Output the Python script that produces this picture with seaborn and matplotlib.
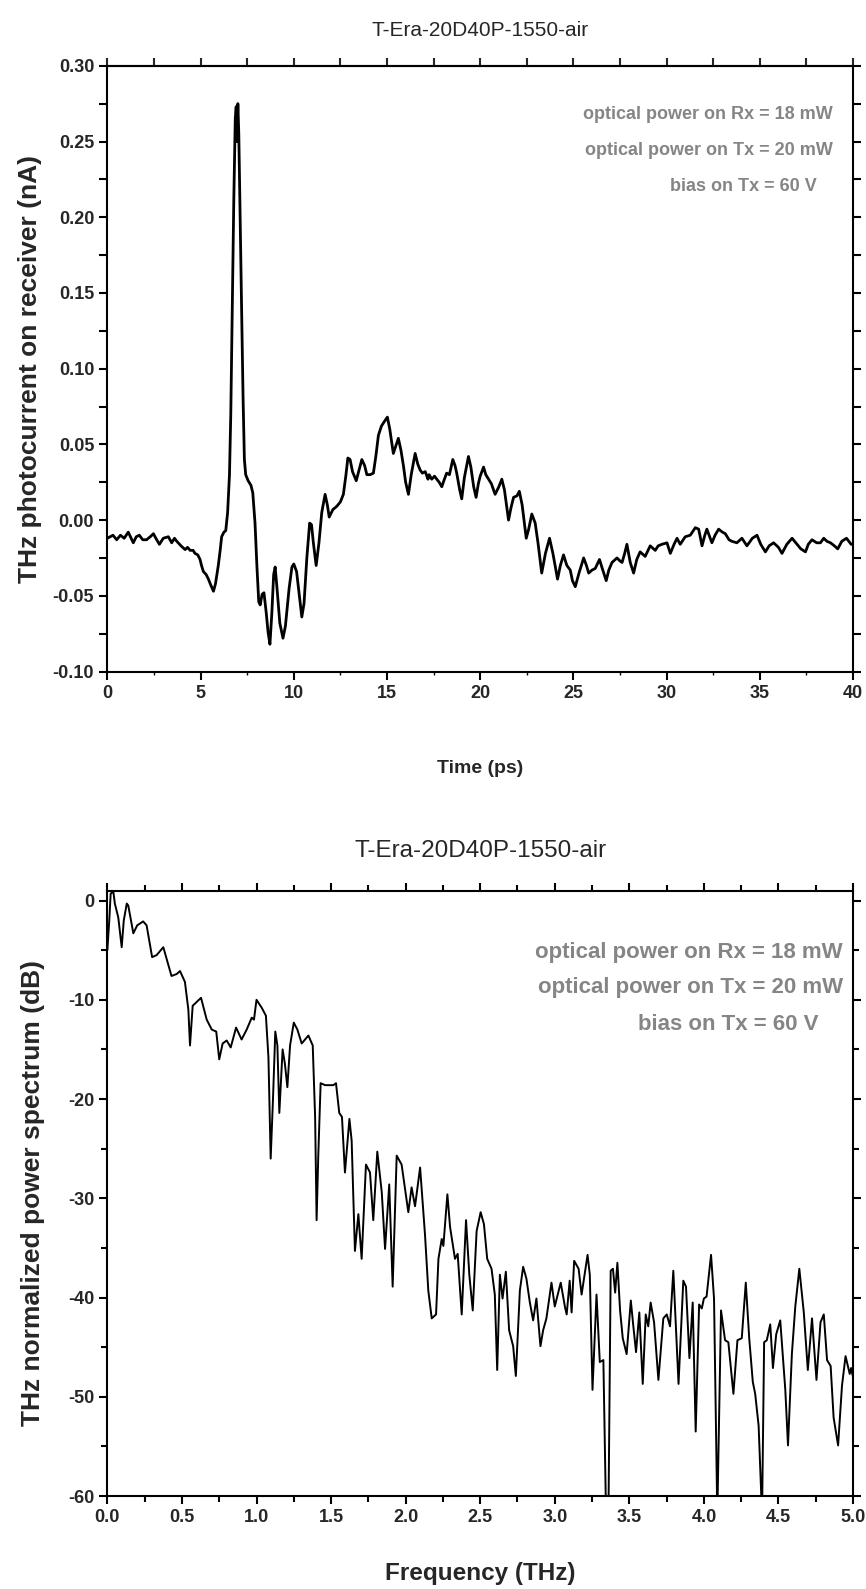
import matplotlib
matplotlib.use("Agg")
import matplotlib.pyplot as plt
from matplotlib.ticker import MultipleLocator
import pandas as pd
import seaborn as sns

# time-domain trace
time_ps = [0.0, 0.3, 0.5, 0.7, 0.9, 1.12, 1.39, 1.55, 1.71, 1.9, 2.1, 2.3, 2.47, 2.6, 2.79, 3.0, 3.27, 3.45, 3.6, 3.72,
           3.95, 4.17, 4.3, 4.44, 4.6, 4.7, 4.85, 4.97, 5.05, 5.15, 5.3, 5.42, 5.55, 5.69, 5.8, 5.95, 6.05, 6.13, 6.25, 6.35,
           6.45, 6.55, 6.62, 6.7, 6.78, 6.86, 6.91, 6.95, 7.0, 7.05, 7.12, 7.2, 7.28, 7.35, 7.42, 7.55, 7.7, 7.8, 7.92, 8.02,
           8.12, 8.2, 8.3, 8.4, 8.52, 8.62, 8.72, 8.82, 8.92, 9.0, 9.1, 9.25, 9.42, 9.55, 9.75, 9.9, 10.0, 10.15, 10.3, 10.43,
           10.55, 10.7, 10.85, 10.95, 11.05, 11.2, 11.35, 11.5, 11.68, 11.8, 11.9, 12.1, 12.3, 12.5, 12.66, 12.8, 12.9, 13.02, 13.15, 13.35,
           13.5, 13.65, 13.8, 13.92, 14.1, 14.27, 14.4, 14.54, 14.7, 14.8, 15.02, 15.15, 15.34, 15.5, 15.61, 15.75, 15.88, 16.0, 16.15, 16.3,
           16.51, 16.65, 16.78, 16.9, 17.05, 17.2, 17.26, 17.4, 17.55, 17.67, 17.8, 17.94, 18.05, 18.2, 18.35, 18.53, 18.65, 18.74, 18.9, 19.01,
           19.15, 19.37, 19.5, 19.65, 19.78, 19.9, 20.0, 20.18, 20.3, 20.45, 20.6, 20.8, 21.0, 21.16, 21.3, 21.52, 21.65, 21.79, 21.97, 22.1,
           22.25, 22.47, 22.6, 22.77, 22.95, 23.1, 23.3, 23.5, 23.72, 23.9, 24.15, 24.3, 24.47, 24.65, 24.83, 24.95, 25.1, 25.3, 25.55, 25.7,
           25.82, 26.0, 26.17, 26.4, 26.55, 26.76, 26.9, 27.07, 27.34, 27.5, 27.61, 27.75, 27.87, 28.05, 28.23, 28.4, 28.58, 28.85, 29.12, 29.39,
           29.55, 29.75, 30.02, 30.2, 30.4, 30.56, 30.73, 31.0, 31.27, 31.54, 31.72, 31.9, 32.05, 32.16, 32.43, 32.6, 32.79, 33.0, 33.15, 33.35,
           33.5, 33.77, 34.04, 34.31, 34.6, 34.85, 35.05, 35.3, 35.5, 35.74, 36.0, 36.19, 36.45, 36.73, 37.0, 37.2, 37.45, 37.6, 37.8, 38.05,
           38.25, 38.43, 38.6, 38.79, 39.0, 39.18, 39.4, 39.65, 39.9, 40.0]
current_na = [-0.012, -0.010, -0.013, -0.010, -0.012, -0.008, -0.015, -0.011, -0.010, -0.013, -0.013, -0.011, -0.009, -0.012, -0.016, -0.012, -0.011, -0.015, -0.012, -0.014,
              -0.017, -0.0195, -0.018, -0.020, -0.020, -0.022, -0.023, -0.026, -0.030, -0.034, -0.036, -0.039, -0.043, -0.047, -0.042, -0.030, -0.020, -0.011, -0.008, -0.007,
              0.005, 0.030, 0.070, 0.140, 0.210, 0.265, 0.273, 0.250, 0.275, 0.255, 0.200, 0.140, 0.080, 0.040, 0.030, 0.026, 0.023, 0.018, -0.002, -0.030,
              -0.054, -0.056, -0.049, -0.048, -0.061, -0.074, -0.082, -0.062, -0.036, -0.031, -0.045, -0.068, -0.078, -0.070, -0.045, -0.031, -0.029, -0.034, -0.050, -0.064,
              -0.055, -0.025, -0.002, -0.003, -0.015, -0.030, -0.015, 0.005, 0.017, 0.010, 0.002, 0.007, 0.009, 0.012, 0.017, 0.030, 0.041, 0.040, 0.032, 0.026,
              0.033, 0.040, 0.036, 0.030, 0.030, 0.031, 0.042, 0.056, 0.062, 0.064, 0.068, 0.060, 0.044, 0.050, 0.054, 0.046, 0.036, 0.025, 0.017, 0.030,
              0.044, 0.037, 0.033, 0.031, 0.032, 0.027, 0.030, 0.027, 0.029, 0.027, 0.025, 0.022, 0.026, 0.031, 0.030, 0.040, 0.036, 0.031, 0.020, 0.014,
              0.028, 0.042, 0.035, 0.022, 0.015, 0.024, 0.029, 0.035, 0.030, 0.027, 0.024, 0.017, 0.022, 0.027, 0.020, 0.000, 0.008, 0.015, 0.016, 0.019,
              0.010, -0.012, -0.006, 0.004, -0.002, -0.015, -0.035, -0.022, -0.012, -0.022, -0.039, -0.030, -0.023, -0.030, -0.033, -0.040, -0.044, -0.035, -0.025, -0.030,
              -0.035, -0.033, -0.032, -0.026, -0.032, -0.040, -0.033, -0.028, -0.025, -0.027, -0.028, -0.022, -0.016, -0.028, -0.035, -0.026, -0.021, -0.024, -0.017, -0.020,
              -0.017, -0.016, -0.015, -0.022, -0.016, -0.012, -0.016, -0.011, -0.010, -0.005, -0.006, -0.017, -0.010, -0.006, -0.015, -0.010, -0.006, -0.008, -0.009, -0.013,
              -0.014, -0.015, -0.012, -0.017, -0.012, -0.010, -0.016, -0.021, -0.017, -0.015, -0.018, -0.022, -0.016, -0.012, -0.016, -0.019, -0.021, -0.016, -0.013, -0.015,
              -0.015, -0.012, -0.014, -0.015, -0.017, -0.019, -0.014, -0.012, -0.016, -0.016]

# spectrum
freq_thz = [0.0, 0.013, 0.022, 0.04, 0.05, 0.073, 0.096, 0.11, 0.13, 0.14, 0.174, 0.2, 0.24, 0.263, 0.30, 0.33, 0.375, 0.43, 0.465, 0.487,
            0.52, 0.543, 0.554, 0.572, 0.6, 0.628, 0.666, 0.7, 0.73, 0.75, 0.773, 0.8, 0.827, 0.863, 0.9, 0.934, 0.968, 0.983, 1.0, 1.035,
            1.063, 1.08, 1.095, 1.11, 1.126, 1.14, 1.153, 1.175, 1.19, 1.207, 1.225, 1.25, 1.274, 1.303, 1.348, 1.377, 1.393, 1.403, 1.414, 1.43,
            1.46, 1.515, 1.533, 1.555, 1.573, 1.593, 1.623, 1.638, 1.66, 1.683, 1.705, 1.734, 1.761, 1.783, 1.81, 1.84, 1.862, 1.89, 1.913, 1.94,
            1.973, 2.018, 2.04, 2.063, 2.097, 2.13, 2.152, 2.175, 2.204, 2.22, 2.242, 2.253, 2.28, 2.298, 2.331, 2.349, 2.376, 2.405, 2.427, 2.45,
            2.476, 2.503, 2.525, 2.547, 2.576, 2.598, 2.614, 2.632, 2.65, 2.672, 2.694, 2.721, 2.739, 2.766, 2.788, 2.81, 2.833, 2.855, 2.877, 2.904,
            2.922, 2.944, 2.978, 3.0, 3.04, 3.069, 3.08, 3.1, 3.113, 3.13, 3.16, 3.18, 3.22, 3.235, 3.253, 3.28, 3.302, 3.326, 3.344, 3.36,
            3.375, 3.39, 3.405, 3.42, 3.438, 3.456, 3.482, 3.51, 3.527, 3.545, 3.567, 3.59, 3.61, 3.627, 3.643, 3.666, 3.695, 3.728, 3.751, 3.773,
            3.795, 3.83, 3.862, 3.88, 3.903, 3.925, 3.945, 3.968, 3.986, 4.0, 4.018, 4.048, 4.068, 4.09, 4.115, 4.142, 4.164, 4.198, 4.225, 4.254,
            4.281, 4.304, 4.328, 4.344, 4.367, 4.39, 4.404, 4.422, 4.445, 4.463, 4.485, 4.512, 4.546, 4.564, 4.59, 4.613, 4.64, 4.67, 4.697, 4.725,
            4.755, 4.782, 4.804, 4.826, 4.85, 4.87, 4.9, 4.926, 4.95, 4.978, 4.987, 5.0]
power_db = [-5.0, -1.9, 0.7, 0.9, -0.3, -1.7, -4.7, -2.0, -0.3, -0.5, -3.3, -2.5, -2.1, -2.5, -5.7, -5.5, -4.7, -7.6, -7.4, -7.1,
            -8.2, -11.0, -14.6, -10.6, -10.2, -9.8, -12.0, -13.0, -13.2, -16.0, -14.4, -14.1, -14.8, -12.8, -14.0, -13.0, -11.8, -12.0, -10.0, -10.8,
            -11.6, -15.8, -26.0, -20.2, -13.2, -14.6, -21.4, -15.0, -16.4, -18.8, -14.6, -12.3, -13.0, -14.4, -13.6, -14.6, -21.8, -32.2, -25.8, -18.4,
            -18.6, -18.6, -18.4, -21.4, -21.8, -27.4, -22.0, -24.2, -35.3, -31.6, -36.1, -26.6, -27.4, -32.2, -25.3, -29.4, -35.1, -28.6, -38.9, -25.7,
            -26.6, -31.4, -28.9, -30.8, -26.9, -33.7, -39.3, -42.1, -41.7, -36.1, -34.1, -34.8, -29.6, -32.9, -36.1, -35.6, -41.7, -32.2, -37.7, -41.3,
            -33.3, -31.4, -32.6, -36.1, -37.1, -39.7, -47.3, -37.7, -40.1, -37.4, -43.3, -44.9, -47.9, -39.3, -36.9, -38.1, -40.5, -42.3, -40.1, -44.9,
            -43.3, -42.1, -38.5, -40.9, -38.5, -41.0, -41.7, -38.3, -41.5, -36.3, -37.1, -39.7, -35.7, -37.7, -49.3, -39.7, -46.5, -46.3, -62.0, -62.0,
            -37.3, -37.1, -39.5, -36.5, -41.3, -44.1, -45.7, -40.3, -42.9, -45.5, -41.5, -48.7, -41.7, -42.9, -40.5, -42.5, -48.3, -42.1, -41.7, -42.9,
            -37.3, -48.7, -38.3, -38.9, -46.1, -40.5, -53.5, -40.7, -41.1, -40.1, -39.9, -35.7, -40.1, -62.0, -41.3, -44.3, -44.5, -49.7, -44.3, -44.1,
            -38.5, -44.1, -48.5, -49.7, -52.9, -62.0, -44.5, -44.3, -42.7, -47.1, -43.7, -42.3, -49.3, -54.9, -45.7, -40.9, -37.1, -41.5, -47.3, -42.1,
            -48.3, -42.5, -41.7, -46.3, -46.9, -52.1, -54.9, -48.9, -45.9, -47.7, -47.1, -48.0]

title = "T-Era-20D40P-1550-air"
notes = ["optical power on Rx = 18 mW", "optical power on Tx = 20 mW", "bias on Tx = 60 V"]

sns.set_theme(style="ticks")
plt.rcParams['font.family'] = ['Liberation Sans', 'DejaVu Sans']
narrow = ['Liberation Sans Narrow', 'Liberation Sans', 'DejaVu Sans']
grey = '#858585'

td = pd.DataFrame({'t': time_ps, 'i': current_na})
sp = pd.DataFrame({'f': freq_thz, 'p': power_db})

fig = plt.figure(figsize=(8.66, 15.89), dpi=100)
fig.patch.set_facecolor('white')
ax1 = fig.add_axes([0.124, 0.5774, 0.861, 0.3812])
ax2 = fig.add_axes([0.124, 0.0585, 0.861, 0.381])

# ---- top: time trace
sns.lineplot(data=td, x='t', y='i', ax=ax1, color='black', linewidth=2.0, estimator=None)
ax1.set_xlim(0, 40)
ax1.set_ylim(-0.10, 0.30)
xt = list(range(0, 41, 5))
ax1.set_xticks(xt, [str(v) for v in xt], fontweight='bold', family=narrow, fontsize=13)
yt = [0.30, 0.25, 0.20, 0.15, 0.10, 0.05, 0.00, -0.05, -0.10]
ax1.set_yticks(yt, ['%.2f' % v for v in yt], fontweight='bold', family=narrow, fontsize=13)
ax1.xaxis.set_minor_locator(MultipleLocator(2.5))
ax1.yaxis.set_minor_locator(MultipleLocator(0.025))
ax1.tick_params(which='major', direction='out', length=6, width=1.5, color='black', right=True)
ax1.tick_params(axis='y', which='minor', direction='out', length=6, width=1.5, color='black', right=True)
ax1.tick_params(axis='x', which='minor', direction='out', length=2, width=1, color='black')
top1 = ax1.secondary_xaxis('top')
top1.xaxis.set_major_locator(MultipleLocator(2.5))
top1.tick_params(direction='out', length=6, width=1.5, labeltop=False)
top1.spines['top'].set_linewidth(1.5)
ax1.set_xlabel('Time (ps)', fontweight='bold', family=narrow, fontsize=14)
ax1.xaxis.set_label_coords(0.5, -0.16)
ax1.xaxis.label.set_verticalalignment('center')
ax1.set_ylabel('THz photocurrent on receiver (nA)', fontweight='bold', fontsize=19)
ax1.yaxis.set_label_coords(-0.104, 0.5)
ax1.yaxis.label.set_verticalalignment('center')
ax1.set_title(title, family=narrow, fontsize=15, y=1.058, va='center', pad=0)
for txt, x, y in zip(notes, [38.93, 38.93, 38.03], [0.268, 0.244, 0.220]):
    ax1.text(x, y, txt, ha='right', va='center', color=grey, fontweight='bold', family=narrow, fontsize=13)

# ---- bottom: spectrum
sns.lineplot(data=sp, x='f', y='p', ax=ax2, color='black', linewidth=1.4, estimator=None)
ax2.set_xlim(0, 5)
ax2.set_ylim(-60, 1)
ft = [0.0, 0.5, 1.0, 1.5, 2.0, 2.5, 3.0, 3.5, 4.0, 4.5, 5.0]
ax2.set_xticks(ft, ['%.1f' % v for v in ft], fontweight='bold', fontsize=13)
pt = [0, -10, -20, -30, -40, -50, -60]
ax2.set_yticks(pt, [str(v) for v in pt], fontweight='bold', fontsize=13)
ax2.xaxis.set_minor_locator(MultipleLocator(0.25))
ax2.yaxis.set_minor_locator(MultipleLocator(5))
ax2.tick_params(which='major', direction='out', length=6, width=1.5, color='black', top=True, right=True)
ax2.tick_params(which='minor', direction='out', length=4, width=1.5, color='black', top=True, right=True)
ax2.set_xlabel('Frequency (THz)', fontweight='bold', fontsize=17.5)
ax2.xaxis.set_label_coords(0.5, -0.128)
ax2.xaxis.label.set_verticalalignment('center')
ax2.set_ylabel('THz normalized power spectrum (dB)', fontweight='bold', fontsize=19)
ax2.yaxis.set_label_coords(-0.0998, 0.5)
ax2.yaxis.label.set_verticalalignment('center')
ax2.set_title(title, fontsize=17.5, y=1.065, va='center', pad=0)
for txt, x, y in zip(notes, [4.932, 4.932, 4.769], [-5.2, -8.8, -12.45]):
    ax2.text(x, y, txt, ha='right', va='center', color=grey, fontweight='bold', fontsize=16)

for ax in (ax1, ax2):
    ax.set_facecolor('white')
    for s in ax.spines.values():
        s.set_visible(True)
        s.set_color('black')
        s.set_linewidth(1.5)

fig.savefig('out.png', dpi=100, facecolor='white')
